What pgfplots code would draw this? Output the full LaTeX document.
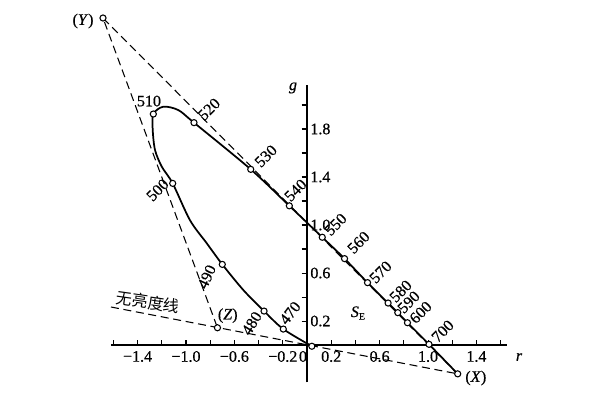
\documentclass[border=0pt]{standalone}
\usepackage{pgfplots}
\pgfplotsset{compat=1.18}
\usepackage{fontspec}
\setmainfont{Liberation Serif}[FakeBold=0.6]
\newfontfamily\lab{Liberation Serif}[FakeBold=0.6, ItalicFont=Liberation Serif Italic, ItalicFeatures={FakeBold=0.6}]
\newfontfamily\cjk{Noto Sans CJK SC}

\begin{document}
\begin{tikzpicture}[lab/.style={font=\lab\fontsize{12}{13}\selectfont, inner sep=0pt}]
\begin{axis}[
  x=90.75pt, y=90pt,
  xmin=-1.62, xmax=1.65, ymin=-0.31, ymax=2.17,
  axis lines=middle,
  axis line style={-, line width=0.9pt},
  clip=false,
  hide obscured x ticks=false,
  hide obscured y ticks=false,
  xtick={-1.4,-1.0,-0.6,-0.2,0,0.2,0.6,1.0,1.4},
  xticklabels={−1.4,−1.0,−0.6,−0.2,\makebox[0pt][r]{0},0.2,0.6,1.0,1.4},
  minor xtick={-1.6,-1.2,-0.8,-0.4,0.4,0.8,1.2,1.6},
  ytick={0.2,0.6,1.0,1.4,1.8},
  yticklabels={0.2,0.6,1.0,1.4,1.8},
  minor ytick={0.4,0.8,1.2,1.6,2.0},
  major tick length=4pt, minor tick length=4pt,
  xtick align=inside, ytick align=outside,
  tick style={line width=0.8pt, black},
  ticklabel style={font=\lab\fontsize{12}{13}\selectfont},
  xticklabel style={yshift=-1pt},
  yticklabel style={anchor=west, xshift=3pt},
]
% spectral locus
\addplot[line width=1.3pt, smooth, tension=0.5] coordinates {
  (0.04,-0.01) (-0.196,0.133) (-0.355,0.283) (-0.526,0.458) (-0.70,0.672)
  (-0.83,0.85) (-0.967,1.04) (-1.11,1.347) (-1.20,1.486) (-1.256,1.625)
  (-1.275,1.792) (-1.27,1.925) (-1.188,1.986) (-1.064,1.958) (-0.934,1.853)
  (-0.465,1.464) (-0.146,1.16) (0.126,0.898) (0.31,0.72) (0.50,0.52)
  (0.67,0.35) (0.75,0.27) (0.83,0.186) (1.008,0.006) (1.245,-0.24)
};
% triangle XYZ and alychne
\addplot[line width=0.8pt, dash pattern=on 6pt off 3.5pt] coordinates {
  (1.245,-0.24) (-1.686,2.725) (-0.74,0.144)
};
\addplot[line width=0.8pt, dash pattern=on 6pt off 3.5pt] coordinates {
  (-1.62,0.317) (1.245,-0.24)
};
% marks
\addplot[only marks, mark=*, mark size=2.3pt, mark options={fill=white, draw=black, line width=0.8pt}] coordinates {
  (0.04,-0.01) (-0.196,0.133) (-0.355,0.283) (-0.70,0.672) (-1.11,1.347)
  (-1.27,1.925) (-0.934,1.853) (-0.465,1.464) (-0.146,1.16) (0.126,0.898)
  (0.31,0.72) (0.50,0.52) (0.67,0.35) (0.75,0.27) (0.83,0.186) (1.008,0.006)
  (1.245,-0.24) (-1.686,2.725) (-0.74,0.144)
};
% labels
\node[lab] at (axis cs:-1.306,2.033) {510};
\node[lab, rotate=45] at (axis cs:-0.810,1.965) {520};
\node[lab, rotate=45] at (axis cs:-0.340,1.575) {530};
\node[lab, rotate=45] at (axis cs:-0.095,1.290) {540};
\node[lab, rotate=45] at (axis cs:0.236,1.005) {550};
\node[lab, rotate=45] at (axis cs:0.426,0.855) {560};
\node[lab, rotate=45] at (axis cs:0.608,0.608) {570};
\node[lab, rotate=45] at (axis cs:0.774,0.449) {580};
\node[lab, rotate=45] at (axis cs:0.840,0.358) {590};
\node[lab, rotate=45] at (axis cs:0.939,0.272) {600};
\node[lab, rotate=45] at (axis cs:1.121,0.116) {700};
\node[lab, rotate=45] at (axis cs:-1.235,1.292) {500};
\node[lab, rotate=65] at (axis cs:-0.829,0.569) {490};
\node[lab, rotate=58] at (axis cs:-0.457,0.181) {480};
\node[lab, rotate=52] at (axis cs:-0.14,0.267) {470};
\node[lab] at (axis cs:-0.655,0.245) {(\textit{Z})};
\node[lab] at (axis cs:-1.851,2.70) {(\textit{Y})};
\node[lab] at (axis cs:1.395,-0.275) {(\textit{X})};
\node[lab] at (axis cs:-0.116,2.142) {\textit{g}};
\node[lab] at (axis cs:1.752,-0.10) {\textit{r}};
\node[lab] at (axis cs:0.421,0.267) {\textit{S}\raisebox{-0.35ex}{\fontsize{7.5}{8}\selectfont E}};
\node[font=\cjk\fontsize{12}{13}\selectfont, inner sep=0pt, rotate=-8] at (axis cs:-1.314,0.358) {无亮度线};
% page frame matching the reference
\path (axis cs:-2.537,2.875) rectangle (axis cs:2.421,-0.458);
\end{axis}
\end{tikzpicture}
\end{document}
